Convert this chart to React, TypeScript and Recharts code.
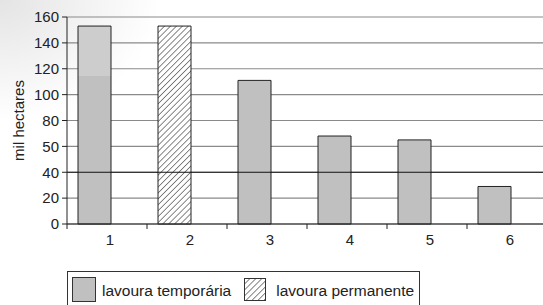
import React from 'react';
import {
  BarChart,
  Bar,
  XAxis,
  YAxis,
  CartesianGrid,
  ReferenceLine,
  Rectangle
} from 'recharts';

// values (mil hectares)
const categories = ['1', '2', '3', '4', '5', '6'];
const temporaria = [153, 0, 111, 68, 65, 29];
const permanente = [0, 153, 0, 0, 0, 0];
const yTicks = [0, 20, 40, 60, 80, 100, 120, 140, 160];
const yTickLabels = ['0', '20', '40', '50', '80', '100', '120', '140', '160'];

const seriesNames = ['lavoura temporária', 'lavoura permanente'];

const data = categories.map((c, i) => ({
  cat: c,
  temporaria: temporaria[i] || null,
  permanente: permanente[i] || null
}));

const FONT = '"Liberation Sans", Arial, Helvetica, sans-serif';

// bars sit in the left part of each category, like the original
const ShiftedBar = (props: any) => {
  const { index, fill } = props;
  const useFog = index === 0 && fill === '#c0c0c0';
  return <Rectangle {...props} x={props.x - 13} fill={useFog ? 'url(#fogBar)' : fill} />;
};

const CatTick = ({ x, y, payload }: any) => (
  <g>
    <line x1={x - 40} y1={y} x2={x - 40} y2={y + 5} stroke="#222" />
    <text x={x + 3} y={y + 21} textAnchor="middle" fontSize={15} fill="#222" fontFamily={FONT}>
      {payload.value}
    </text>
  </g>
);

const LegendBox = () => (
  <div
    style={{
      position: 'absolute',
      left: 67,
      top: 271,
      display: 'flex',
      alignItems: 'center',
      border: '1px solid #333',
      background: '#fff',
      height: 34,
      padding: '0 5px 0 4px',
      fontFamily: FONT,
      fontSize: 15.5,
      color: '#222',
      whiteSpace: 'nowrap'
    }}
  >
    <span style={{ width: 22, height: 23, background: '#c0c0c0', border: '1px solid #333', marginRight: 6 }} />
    <span style={{ marginRight: 13, paddingTop: 4 }}>{seriesNames[0]}</span>
    <svg width={22} height={23} style={{ marginRight: 10 }}>
      <rect x={0.5} y={0.5} width={21} height={22} fill="url(#hatch)" stroke="#333" />
    </svg>
    <span style={{ paddingTop: 4 }}>{seriesNames[1]}</span>
  </div>
);

const App: React.FC = () => {
  return (
    <div
      style={{
        position: 'absolute',
        left: 0,
        top: 0,
        width: 543,
        height: 305,
        overflow: 'hidden',
        background: 'radial-gradient(ellipse 160px 120px at 0 0, #e4e4e4 0%, #ffffff 100%)'
      }}
    >
      <BarChart
        width={547}
        height={305}
        data={data}
        margin={{ top: 17, right: 0, bottom: 51, left: 0 }}
        barSize={33}
      >
        <defs>
          <pattern id="hatch" patternUnits="userSpaceOnUse" width={4.2} height={4.2} patternTransform="rotate(45)">
            <rect width={4.2} height={4.2} fill="#fff" />
            <line x1={0} y1={0} x2={0} y2={4.2} stroke="#111" strokeWidth={1} />
          </pattern>
          <linearGradient id="fogBar" x1="0" y1="0" x2="0" y2="1">
            <stop offset="0" stopColor="#cdcdcd" />
            <stop offset="0.25" stopColor="#cdcdcd" />
            <stop offset="0.25" stopColor="#c0c0c0" />
            <stop offset="1" stopColor="#c0c0c0" />
          </linearGradient>
        </defs>
        <CartesianGrid vertical={false} stroke="#8a8a8a" strokeWidth={1.2} />
        <ReferenceLine y={40} stroke="#111" strokeWidth={1.2} />
        <XAxis
          dataKey="cat"
          axisLine={{ stroke: '#222' }}
          tickLine={false}
          tickSize={0}
          tickMargin={0}
          tick={<CatTick />}
          height={30}
          interval={0}
        />
        <YAxis
          width={67}
          domain={[0, 160]}
          ticks={yTicks}
          interval={0}
          tickFormatter={(v: number) => yTickLabels[yTicks.indexOf(v)]}
          axisLine={{ stroke: '#222' }}
          tickLine={{ stroke: '#222' }}
          tickSize={5}
          tickMargin={3}
          tick={{ fill: '#222', fontSize: 15, fontFamily: FONT }}
          label={{
            value: 'mil hectares',
            angle: -90,
            position: 'insideLeft',
            dx: 14,
            dy: 0,
            style: { fill: '#222', fontSize: 15, fontFamily: FONT, textAnchor: 'middle' }
          }}
        />
        <Bar
          dataKey="temporaria"
          name={seriesNames[0]}
          stackId="a"
          fill="#c0c0c0"
          stroke="#222"
          strokeWidth={1}
          shape={<ShiftedBar />}
          isAnimationActive={false}
        />
        <Bar
          dataKey="permanente"
          name={seriesNames[1]}
          stackId="a"
          fill="url(#hatch)"
          stroke="#222"
          strokeWidth={1}
          shape={<ShiftedBar />}
          isAnimationActive={false}
        />
      </BarChart>
      <LegendBox />
    </div>
  );
};

export default App;
